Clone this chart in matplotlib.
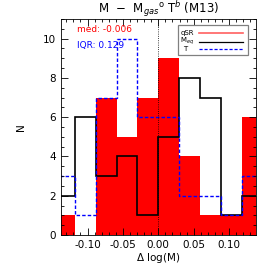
import numpy as np
import matplotlib.pyplot as plt
from matplotlib.ticker import MultipleLocator
from matplotlib.patches import Rectangle

# bin edges (width ~0.0295, centred so that 0 is an edge)
edges = np.arange(-5, 6) * 0.0295

# counts per bin
n_gsr = [1, 0, 7, 5, 7, 9, 4, 1, 1, 6]
n_meq = [2, 6, 3, 4, 1, 5, 8, 7, 1, 2]
n_t = [3, 1, 7, 10, 6, 6, 2, 2, 1, 3]

med = -0.006
iqr = 0.129

plt.rcParams['font.family'] = ['DejaVu Sans']
fig = plt.figure(figsize=(2.74, 2.74), dpi=100)
ax = fig.add_axes([0.2215, 0.142, 0.7125, 0.789])

ax.stairs(n_gsr, edges, fill=True, color='red')
ax.stairs(n_meq, edges, baseline=None, color='black', lw=1.2)
ax.stairs(n_t, edges, baseline=None, color='blue', lw=1.0, ls=(0, (2.5, 1.5)))
ax.axvline(0, color='black', lw=0.6, ls=':')

ax.set_xlim(-0.138, 0.138)
ax.set_ylim(0, 11)
ax.xaxis.set_major_locator(MultipleLocator(0.05))
ax.xaxis.set_minor_locator(MultipleLocator(0.01))
ax.yaxis.set_major_locator(MultipleLocator(2))
ax.yaxis.set_minor_locator(MultipleLocator(0.5))
ax.tick_params(which='both', direction='in', top=True, right=True, labelsize=7.5)
ax.tick_params(which='major', length=5, width=0.6)
ax.tick_params(which='minor', length=2.5, width=0.6)
ax.xaxis.set_major_formatter(plt.FuncFormatter(lambda v, p: '%.2f' % v if abs(v) > 1e-9 else '0.00'))
for s in ax.spines.values():
    s.set_linewidth(0.6)

ax.set_xlabel(r'$\Delta$ log(M)', fontsize=7.5, labelpad=1)
ax.set_ylabel('N', fontsize=7.5, labelpad=12)
ax.set_title(r'M  $-$  M$_{gas}$$^{\rm o}$ T$^{b}$ (M13)', fontsize=8.5, pad=4)

ax.text(0.083, 0.97, 'med: %.3f' % med, color='red', fontsize=6.5, transform=ax.transAxes, va='top')
ax.text(0.083, 0.90, 'IQR: %.3f' % iqr, color='blue', fontsize=6.5, transform=ax.transAxes, va='top')

# legend box drawn by hand (IDL style: label then line)
ax.add_patch(Rectangle((0.601, 0.832), 0.359, 0.139, transform=ax.transAxes,
                       facecolor='white', edgecolor='gray', lw=0.9, zorder=5))
leg_labels = ['qSR', r'M$_{eq}$', 'T']
leg_colors = ['#ff6060', 'black', 'blue']
leg_styles = ['-', '-', (0, (2.5, 1.5))]
leg_line_y = [0.935, 0.894, 0.862]
leg_text_x = [0.612, 0.612, 0.628]
leg_text_y = [0.935, 0.898, 0.862]
for i in range(3):
    ax.text(leg_text_x[i], leg_text_y[i], leg_labels[i], fontsize=5, transform=ax.transAxes,
            va='center', zorder=6)
    ax.plot([0.71, 0.935], [leg_line_y[i]] * 2, color=leg_colors[i], ls=leg_styles[i],
            lw=1.2 if i == 0 else 0.9, transform=ax.transAxes, zorder=6)

fig.savefig('out.png', dpi=100)
